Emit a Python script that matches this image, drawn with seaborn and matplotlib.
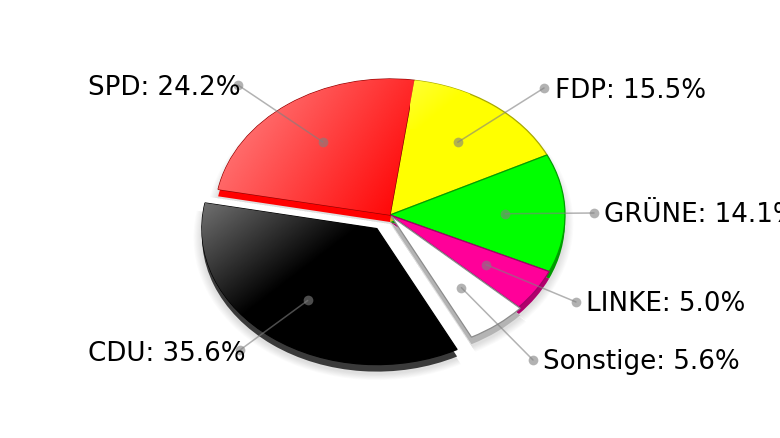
import numpy as np
import seaborn as sns
import matplotlib.pyplot as plt

# === DONNEES ===
parties = ["FDP", "GRÜNE", "LINKE", "Sonstige", "CDU", "SPD"]
shares = [15.5, 14.1, 5.0, 5.6, 35.6, 24.2]
top_colors = ["#ffff00", "#00ff00", "#ff0099", "#ffffff", "#000000", "#ff0000"]
side_colors = ["#c8c800", "#009a00", "#b0006c", "#b4b4b4", "#3a3a3a", "#ff0000"]
edge_colors = ["#a8a800", "#00a000", "#a00068", "#8c8c8c", "#000000", "#900000"]
explode = [0, 0, 0, 0.012, 0.125, 0]
labels = [f"{p}: {s:.1f}%" for p, s in zip(parties, shares)]

# position des libelles en pixels (gauche du texte) et du point exterieur
label_x = [555, 604, 586, 543, 88, 88]
label_y = [91, 215, 304, 362, 354, 88]
dot_x = [544, 594, 576, 533, 240, 238]
dot_y = [89, 214, 303, 361, 351, 86]

# === CONFIGURATION ===
sns.set_theme(style="white")
plt.rcParams["font.family"] = ["DejaVu Sans"]

CX, CY, RX, RY = 390, 216, 175, 136
DEPTH = 7


def px(x, y):
    """pixels de l'image -> coordonnees du camembert"""
    return (x - CX) / RX, (CY - y) / RY


fig = plt.figure(figsize=(7.8, 4.39), dpi=100)
ax = fig.add_axes([0, 0, 1, 1])

# ombre portee
for k in range(8):
    ax.pie(shares, explode=explode, startangle=82, counterclock=False,
           radius=1.0 + 0.006 * (8 - k), center=(0, -(DEPTH + 2) / RY),
           colors=["black"] * 6, wedgeprops={"alpha": 0.014, "linewidth": 0})

# epaisseur
ax.pie(shares, explode=explode, startangle=82, counterclock=False,
       center=(0, -DEPTH / RY), colors=side_colors, wedgeprops={"linewidth": 0})

# dessus
wedges, _ = ax.pie(shares, explode=explode, startangle=82, counterclock=False,
                   colors=top_colors, wedgeprops={"linewidth": 0.9})
for w, e in zip(wedges, edge_colors):
    w.set_edgecolor(e)


# degrades (coin haut gauche plus clair)
def gloss(wedge, cols, x0, y0, x1, y1, wx=1.0, wy=1.0, scale=1.15):
    cmap = sns.blend_palette(cols, as_cmap=True)
    xx, yy = np.meshgrid(np.linspace(x0, x1, 120), np.linspace(y0, y1, 120))
    t = np.clip((wx * (xx - x0) / (x1 - x0) + wy * (yy - y0) / (y1 - y0)) / scale, 0, 1)
    xa, ya = px(x0, y1)
    xb, yb = px(x1, y0)
    im = ax.imshow(t, cmap=cmap, extent=(xa, xb, ya, yb), origin="upper",
                   aspect="auto", zorder=1.5, vmin=0, vmax=1)
    im.set_clip_path(wedge)


gloss(wedges[4], ["#747474", "#000000"], 200, 200, 370, 330)
gloss(wedges[5], ["#ff8c8c", "#ff0000"], 215, 78, 420, 232, wy=0.5, scale=1.4)
gloss(wedges[0], ["#ffff38", "#ffff00"], 410, 80, 470, 130)

# points et traits de rappel
start = 82
cum = 0
for i, s in enumerate(shares):
    mid = np.radians(start - (cum + s / 2) * 3.6)
    cum += s
    off = 0.66 + explode[i]
    ix, iy = off * np.cos(mid), off * np.sin(mid)
    ox, oy = px(dot_x[i], dot_y[i])
    ax.plot([ix, ox], [iy, oy], color="#808080", lw=1.1, alpha=0.6, zorder=3)
    ax.plot([ix, ox], [iy, oy], "o", color="#808080", ms=7, mew=0, alpha=0.6, zorder=3)
    tx, ty = px(label_x[i], label_y[i])
    ax.text(tx, ty, labels[i], fontsize=18.8, color="black", ha="left",
            va="center", zorder=4, clip_on=True)

ax.set_aspect("auto")
ax.set_xlim(-CX / RX, (780 - CX) / RX)
ax.set_ylim((CY - 439) / RY, CY / RY)
ax.axis("off")

fig.savefig("out.png", dpi=100, facecolor="white")
